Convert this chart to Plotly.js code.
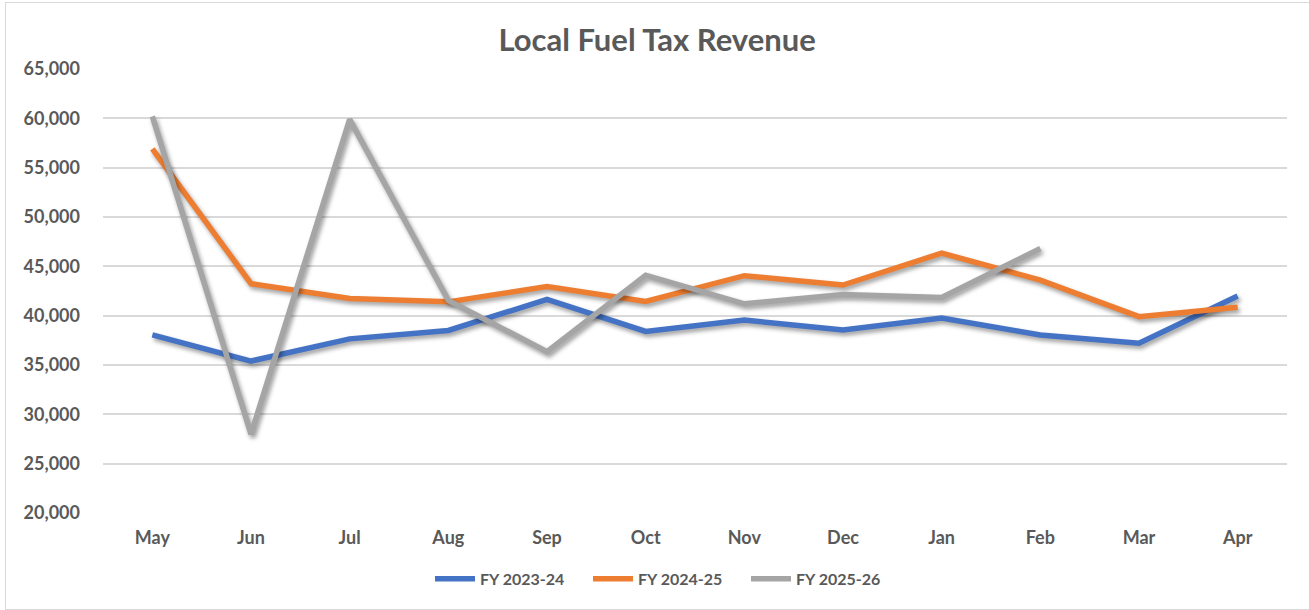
<!DOCTYPE html>
<html>
<head>
<meta charset="utf-8">
<script src="https://cdn.plot.ly/plotly-3.0.1.min.js"></script>
<style>
  html, body { margin: 0; padding: 0; background: #fff; }
  #wrap { position: relative; width: 1309px; height: 610px; overflow: hidden; }
  #chart { position: absolute; left: 0; top: 0; width: 1309px; height: 610px; }
  #frame { position: absolute; left: 5px; top: 2px; width: 1310px; height: 606px;
           border-left: 1.5px solid #d9d9d9; border-top: 1.5px solid #d9d9d9; border-bottom: 1.5px solid #d9d9d9; pointer-events: none; }
  .scatterlayer .trace path.js-line { filter: drop-shadow(2px 3px 2px rgba(0,0,0,0.38)); }
</style>
</head>
<body>
<div id="wrap">
  <div id="chart"></div>
  <div id="frame"></div>
</div>
<script>
const months = ["May","Jun","Jul","Aug","Sep","Oct","Nov","Dec","Jan","Feb","Mar","Apr"];
const fy2324 = [38050, 35400, 37650, 38500, 41650, 38400, 39550, 38550, 39750, 38050, 37200, 42000];
const fy2425 = [56900, 43250, 41750, 41400, 42950, 41450, 44050, 43100, 46350, 43600, 39900, 40850];
const fy2526 = [60200, 28000, 59900, 41550, 36350, 44100, 41200, 42150, 41850, 46800];
const seriesNames = ["FY 2023-24", "FY 2024-25", "FY 2025-26"];
const yTicks = [20000, 25000, 30000, 35000, 40000, 45000, 50000, 55000, 60000, 65000];

const colors = ["#4472C4", "#ED7D31", "#A5A5A5"];
const FONT = "Lato, 'Open Sans', sans-serif";
const txt = "#595959";

const data = [fy2324, fy2425, fy2526].map((vals, i) => ({
  type: "scatter",
  mode: "lines",
  name: seriesNames[i],
  x: months.slice(0, vals.length),
  y: vals,
  line: { color: colors[i], width: 5.5, shape: "linear" },
  hoverinfo: "x+y+name"
}));

const layout = {
  width: 1309,
  height: 610,
  margin: { l: 103, r: 22, t: 69, b: 97, autoexpand: false },
  paper_bgcolor: "#ffffff",
  plot_bgcolor: "#ffffff",
  font: { family: FONT, color: txt, size: 16 },
  title: {
    text: "<b>Local Fuel Tax Revenue</b>",
    font: { family: FONT, size: 31, color: txt },
    xref: "container", x: 0.502, xanchor: "center",
    y: 0.935, yanchor: "middle"
  },
  xaxis: {
    type: "category",
    categoryorder: "array",
    categoryarray: months,
    range: [-0.5, 11.5],
    showgrid: false,
    zeroline: false,
    showline: false,
    ticks: "",
    tickfont: { family: FONT, size: 18, color: txt, weight: "bold" },
    ticklabelstandoff: 12,
    automargin: false,
    fixedrange: true
  },
  yaxis: {
    range: [20000, 65000],
    tickvals: yTicks,
    ticktext: yTicks.map(v => v.toLocaleString("en-US")),
    showgrid: true,
    gridcolor: "#d9d9d9",
    gridwidth: 1.5,
    zeroline: false,
    showline: false,
    ticks: "",
    tickfont: { family: FONT, size: 18, color: txt, weight: "bold" },
    ticklabelstandoff: 22,
    automargin: false,
    fixedrange: true
  },
  showlegend: true,
  legend: {
    orientation: "h",
    xref: "container", x: 0.3285, xanchor: "left",
    yref: "container", y: 0.051, yanchor: "middle",
    font: { family: FONT, size: 16, color: txt, weight: "bold" },
    itemwidth: 40,
    entrywidth: 103,
    entrywidthmode: "pixels",
    tracegroupgap: 0,
    bgcolor: "rgba(0,0,0,0)"
  },
  hovermode: "closest"
};

Plotly.newPlot("chart", data, layout, { displayModeBar: false });
</script>
</body>
</html>
